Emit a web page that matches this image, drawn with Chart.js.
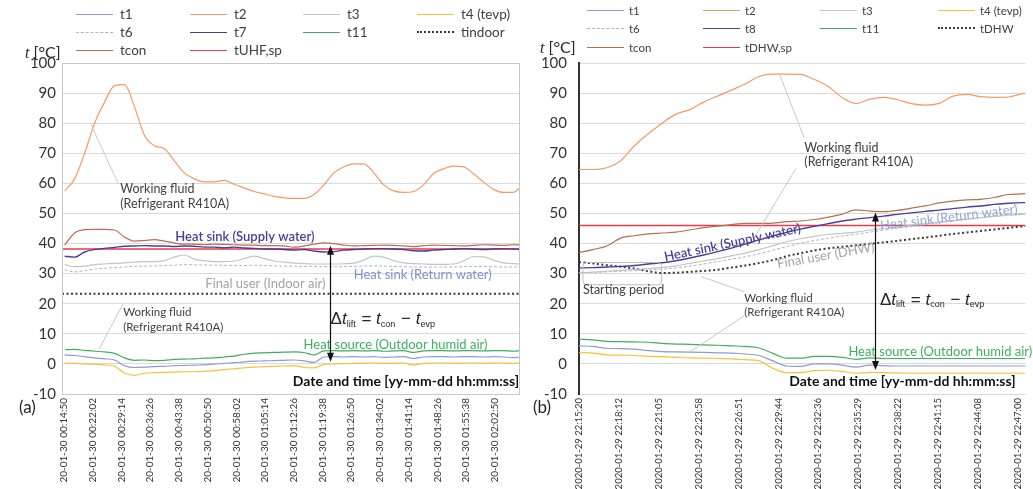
<!DOCTYPE html>
<html>
<head>
<meta charset="utf-8">
<script src="https://cdn.jsdelivr.net/npm/chart.js@4.4.1/dist/chart.umd.min.js"></script>
<style>
  body { margin: 0; background: #fff; width: 1033px; height: 489px; overflow: hidden; font-family: Lato, sans-serif; }
  .panel { position: absolute; top: 0; height: 489px; }
  #panelA { left: 0; width: 523px; }
  #panelB { left: 527px; width: 506px; }
  .item { position: absolute; display: flex; align-items: center; height: 18px; white-space: nowrap; color: #404040; }
  .swatch { width: 37px; height: 0; }
  .ylab { position: absolute; color: #262626; font-size: 16px; white-space: nowrap; }
  .ylab i { font-family: "Liberation Serif", serif; }
  .tag { position: absolute; font-size: 17px; color: #262626; }
</style>
</head>
<body>
<div id="panelA" class="panel">
  <canvas id="chartA" width="523" height="489"></canvas>
  <div class="ylab" style="left:25px; top:42px;"><i>t</i> [°C]</div>
  <div class="tag" style="left:19px; top:396px;">(a)</div>
</div>
<div id="panelB" class="panel">
  <canvas id="chartB" width="506" height="489"></canvas>
  <div class="ylab" style="left:13px; top:37px;"><i>t</i> [°C]</div>
  <div class="tag" style="left:6px; top:396px;">(b)</div>
</div>
<script>
// ---------- panel (a): underfloor heating run, 2020-01-30 ----------
// sample times in seconds after midnight
const timeA = [900, 1050, 1200, 1350, 1500, 1650, 1800, 1950, 2100, 2250, 2400, 2550, 2700, 2850, 3000, 3150,
  3300, 3450, 3600, 3750, 3900, 4050, 4200, 4350, 4500, 4650, 4800, 4950, 5100, 5250, 5400, 5550, 5700, 5850,
  6000, 6150, 6300, 6450, 6600, 6750, 6900, 7050, 7200, 7350, 7500, 7650, 7750];
const ticksA = ['20-01-30 00:14:50', '20-01-30 00:22:02', '20-01-30 00:29:14', '20-01-30 00:36:26',
  '20-01-30 00:43:38', '20-01-30 00:50:50', '20-01-30 00:58:02', '20-01-30 01:05:14', '20-01-30 01:12:26',
  '20-01-30 01:19:38', '20-01-30 01:26:50', '20-01-30 01:34:02', '20-01-30 01:41:14', '20-01-30 01:48:26',
  '20-01-30 01:55:38', '20-01-30 02:02:50'];

const t1A = [3, 2.8, 2.4, 2, 1.7, 1.3, -0.6, -1.2, -1.1, -0.9, -0.8, -0.6, -0.5, -0.4, -0.3, -0.1, 0.2, 0.4, 0.7,
  0.9, 1, 1.1, 1.2, 1.3, 1, 0.5, 2.3, 2.4, 2.3, 2.4, 2.3, 2.4, 2.2, 2.3, 2.4, 1.8, 2.3, 2.4, 2.4, 2.3, 2.4, 2.4,
  2.3, 2.4, 2.3, 2.1, 2.2];
const t2A = [57.5, 61.5, 70, 80, 87, 92.5, 92.8, 85.5, 76, 72.5, 71.5, 67.5, 63.5, 61.5, 60.5, 60.5, 61, 59.7,
  58.5, 57.3, 56.5, 55.7, 55.2, 55, 55, 56.3, 59.5, 63.5, 65.5, 66.5, 66.5, 63.5, 59.5, 57.5, 57, 57.3, 59.5,
  63.3, 64.8, 65.7, 65.5, 63.2, 60.5, 58, 57, 57, 58.5];
const t3A = [33, 32.3, 32.5, 33, 33.2, 33.4, 33.6, 33.8, 34, 34, 34.3, 35.5, 36.2, 34.8, 34.3, 34, 34, 34.2, 35,
  35.8, 35, 34.2, 33.8, 33.5, 33.3, 33.2, 33.2, 33.2, 33.3, 33.5, 34.5, 35.8, 35.5, 34.3, 33.6, 33.3, 33.2, 33.1,
  33.1, 33.2, 34.2, 35.7, 35.6, 34.5, 33.6, 33.3, 33.2];
const t4A = [0.2, 0.2, 0, -0.1, -0.3, -0.8, -3, -3.8, -3.1, -2.9, -2.8, -2.7, -2.6, -2.6, -2.5, -2.2, -1.9, -1.6,
  -1.3, -1.1, -0.9, -0.8, -0.7, -0.6, -1.2, -1.3, -0.2, 0, 0.1, 0.2, 0.2, 0.3, 0.2, 0.2, 0.3, -0.4, 0.2, 0.3, 0.3,
  0.2, 0.3, 0.3, 0.2, 0.3, 0.3, 0.2, 0.3];
const t6A = [31.2, 30.6, 31, 31.5, 31.8, 32, 32.2, 32.4, 32.5, 32.6, 32.7, 32.8, 33, 32.9, 32.9, 32.8, 32.8, 32.7,
  32.7, 32.8, 32.7, 32.6, 32.5, 32.5, 32.4, 32.4, 32.3, 32.3, 32.3, 32.4, 32.5, 32.6, 32.5, 32.4, 32.3, 32.2,
  32.2, 32.2, 32.2, 32.2, 32.3, 32.4, 32.4, 32.3, 32.2, 32.2, 32.2];
const t7A = [35.8, 35.5, 37.2, 38, 38.4, 38.7, 39.1, 39.2, 39.3, 39.2, 39.2, 39, 39.2, 39.1, 38.8, 38.8, 38.6,
  38.8, 38.5, 38.4, 38.2, 38.2, 38, 37.8, 38, 37.5, 37.2, 37.3, 37.8, 38, 38.2, 38.3, 38.3, 38.2, 38, 37.6, 37.5,
  37.8, 38, 38.2, 38.3, 38.2, 38, 38.2, 38.3, 38.2, 38.1];
const t11A = [4.7, 4.8, 4.5, 4.2, 4, 3.5, 2, 1.2, 1.3, 1.1, 1.2, 1.5, 1.6, 1.7, 1.9, 2, 2.3, 2.6, 3.2, 3.6, 3.7,
  3.8, 3.9, 4, 3.8, 3, 4.3, 4.4, 4.3, 4.4, 4.3, 4.4, 4.2, 4.3, 4.4, 3.8, 4.3, 4.4, 4.4, 4.3, 4.4, 4.4, 4.3, 4.4,
  4.4, 4.2, 4.4];
const tconA = [39.5, 43.5, 44.6, 44.7, 44.7, 44.5, 42.2, 40.8, 41, 41.3, 40.8, 40.2, 39.8, 39.8, 39.6, 39.8, 39.7,
  39.6, 39.5, 39.5, 39.3, 39.3, 39.2, 38.8, 39.2, 39.8, 40.2, 40, 39.5, 39.2, 39.3, 39.4, 39.5, 39.4, 39.2, 39,
  39.3, 39.5, 39.4, 39.3, 39.2, 39.4, 39.6, 39.5, 39.4, 39.6, 39.5];
// constant lines: start and end only
const flatTimeA = [860, 7750];
const tindoorA = [23.3, 23.3];
const tspA = [38.2, 38.2];

// ---------- panel (b): domestic hot water run, 2020-01-29 ----------
const timeB = [80120, 80180, 80240, 80300, 80360, 80420, 80480, 80540, 80600, 80660, 80720, 80780, 80840, 80900,
  80960, 81020, 81080, 81140, 81200, 81260, 81320, 81380, 81440, 81500, 81560, 81620, 81680, 81740, 81800, 81860,
  81920, 81980, 82040, 82054];
const ticksB = ['2020-01-29 22:15:20', '2020-01-29 22:18:12', '2020-01-29 22:21:05', '2020-01-29 22:23:58',
  '2020-01-29 22:26:51', '2020-01-29 22:29:44', '2020-01-29 22:32:36', '2020-01-29 22:35:29',
  '2020-01-29 22:38:22', '2020-01-29 22:41:15', '2020-01-29 22:44:08', '2020-01-29 22:47:00'];

const t1B = [6, 5.8, 5.2, 5.1, 4.9, 4.4, 4.1, 4, 3.9, 3.8, 3.7, 3.6, 3.3, 2.8, 1, -0.7, -0.8, 0, 0, -0.4, -1.1,
  -0.4, -0.6, -0.7, -0.7, -0.7, -0.7, -0.7, -0.7, -0.7, -0.7, -0.7, -0.7, -0.7];
const t2B = [64.6, 64.6, 65.2, 67.5, 72.5, 76.5, 80, 83, 84.5, 87, 89, 91, 93, 95.5, 96.3, 96.3, 96.2, 94.5, 92.2,
  88.5, 86.5, 88, 88.6, 87.8, 86.5, 86, 86.6, 89, 89.6, 88.8, 88.6, 88.7, 89.8, 90];
const t3B = [30.3, 30.5, 30.8, 31.1, 31.4, 31.7, 32.1, 32.6, 33.4, 34.2, 35, 35.9, 36.8, 38, 39.3, 40.6, 41.6,
  42.4, 43, 43.4, 43.8, 44.5, 45, 45.5, 46.1, 46.6, 47.1, 47.6, 48.1, 48.6, 49, 49.4, 49.7, 49.8];
const t4B = [3.8, 3.6, 3, 2.9, 2.8, 2.5, 2.4, 2.2, 2, 1.9, 1.8, 1.7, 1.4, 1, -1.5, -2.9, -2.9, -2.2, -2.1, -2.5,
  -3.1, -2.8, -2.9, -3, -3.1, -3.1, -3.1, -3.1, -3.1, -3.1, -3.1, -3.1, -3.1, -3.1];
const t6B = [30.3, 30.4, 30.6, 30.8, 31, 31.2, 31.5, 31.9, 32.5, 33.2, 34, 34.8, 35.6, 36.6, 37.8, 39, 40.1, 41,
  41.8, 42.5, 43.1, 43.8, 44.5, 45.1, 45.7, 46.3, 46.9, 47.5, 48, 48.6, 49.1, 49.6, 50, 50.1];
const t8B = [31.9, 32, 32.2, 32.4, 32.7, 33.2, 33.6, 34.3, 35.2, 36.2, 37.3, 38.5, 39.8, 41.2, 42.5, 43.7, 44.8,
  45.7, 46.6, 47.5, 48.1, 48.6, 49.1, 49.7, 50.2, 50.7, 51.1, 51.6, 52.1, 52.5, 53, 53.4, 53.6, 53.6];
const t11B = [8.2, 8, 7.5, 7.4, 7.3, 7.2, 6.8, 6.6, 6.5, 6.3, 6.2, 6, 5.8, 5.3, 3.5, 1.9, 1.9, 2.5, 2.5, 2.2, 1.5,
  2, 1.8, 1.8, 1.8, 1.8, 1.8, 1.8, 1.8, 1.8, 1.8, 1.8, 1.8, 1.8];
const tDHWB = [33.8, 33.4, 32.8, 32.3, 31.7, 30.8, 30.2, 30.3, 30.6, 30.9, 31.3, 32, 32.7, 33.5, 34.5, 35.8, 36.8,
  37.7, 38.4, 38.9, 39.4, 39.9, 40.4, 40.9, 41.5, 42, 42.6, 43.2, 43.7, 44.2, 44.7, 45.2, 45.7, 45.8];
const tconB = [37, 38, 39.2, 41.8, 42.6, 43.2, 43.5, 43.8, 44.5, 45.3, 45.8, 46.3, 46.7, 46.7, 46.8, 47.3, 47.5,
  48, 48.8, 49.8, 51.2, 50.8, 50.6, 51, 51.8, 52.5, 53.5, 54.1, 54.5, 54.7, 55.3, 56.3, 56.5, 56.6];
const flatTimeB = [80120, 82054];
const tspB = [46, 46];

const COL = {
  t1: '#8E9AD6', t2: '#F39B66', t3: '#C4C4C4', t4: '#F7C232', t6: '#A8B4D4',
  t7: '#4A3D9E', t11: '#3EAF5E', dots: '#3A3A3A', tcon: '#B86F50', sp: '#E83A4A'
};

const toSec = s => { const p = s.split(':').map(Number); return p[0] * 3600 + p[1] * 60 + p[2]; };

function series(label, times, values, color, extra) {
  return Object.assign({
    label: label,
    data: values.map((v, i) => ({ x: times[i], y: v })),
    borderColor: color,
    backgroundColor: color,
    borderWidth: 1.2,
    pointRadius: 0,
    cubicInterpolationMode: 'monotone',
    fill: false
  }, extra || {});
}

const DASH = { borderDash: [3, 2], borderWidth: 1 };
const DOTS = { borderDash: [2, 2.5], borderWidth: 2 };

const setsA = [
  series('t1', timeA, t1A, COL.t1),
  series('t2', timeA, t2A, COL.t2),
  series('t3', timeA, t3A, COL.t3),
  series('t4 (tevp)', timeA, t4A, COL.t4),
  series('t6', timeA, t6A, COL.t6, DASH),
  series('t7', timeA, t7A, COL.t7, { borderWidth: 1.4 }),
  series('t11', timeA, t11A, COL.t11),
  series('tindoor', flatTimeA, tindoorA, COL.dots, DOTS),
  series('tcon', timeA, tconA, COL.tcon),
  series('tUHF,sp', flatTimeA, tspA, COL.sp, { borderWidth: 1.6, order: 5 })
];

const setsB = [
  series('t1', timeB, t1B, COL.t1),
  series('t2', timeB, t2B, COL.t2),
  series('t3', timeB, t3B, COL.t3),
  series('t4 (tevp)', timeB, t4B, COL.t4),
  series('t6', timeB, t6B, COL.t6, DASH),
  series('t8', timeB, t8B, COL.t7, { borderWidth: 1.4 }),
  series('t11', timeB, t11B, COL.t11),
  series('tDHW', timeB, tDHWB, COL.dots, DOTS),
  series('tcon', timeB, tconB, COL.tcon),
  series('tDHW,sp', flatTimeB, tspB, COL.sp, { borderWidth: 1.6, order: 5 })
];

// delta-t formula with subscripts
function drawFormula(ctx, x, y) {
  const big = '17px "Liberation Sans"';
  const ital = 'italic 17px "Liberation Sans"';
  const small = '9px "Liberation Sans"';
  const parts = [['\u0394', big, 0], ['t', ital, 0], ['lift', small, 5], [' = ', big, 0], ['t', ital, 0],
    ['con', small, 5], [' \u2212 ', big, 0], ['t', ital, 0], ['evp', small, 5]];
  ctx.fillStyle = '#262626';
  ctx.textAlign = 'left';
  ctx.textBaseline = 'middle';
  let cx = x;
  parts.forEach(p => {
    ctx.font = p[1];
    ctx.fillText(p[0], cx, y + p[2]);
    cx += ctx.measureText(p[0]).width + (p[2] ? 1 : 0);
  });
}

const notes = {
  id: 'notes',
  afterDatasetsDraw(chart, args, opts) {
    const { ctx, chartArea, scales: { x, y } } = chart;
    const X = v => x.getPixelForValue(v);
    const Y = v => y.getPixelForValue(v);
    ctx.save();
    if (opts.frame) {
      ctx.strokeStyle = opts.frame;
      ctx.lineWidth = 1;
      ctx.strokeRect(chartArea.left + 0.5, chartArea.top + 0.5, chartArea.width - 1, chartArea.height);
    }
    (opts.lines || []).forEach(l => {
      ctx.strokeStyle = '#C8C8C8';
      ctx.lineWidth = 1;
      ctx.beginPath();
      ctx.moveTo(X(l[0]), Y(l[1]));
      ctx.lineTo(X(l[2]), Y(l[3]));
      ctx.stroke();
    });
    (opts.boxes || []).forEach(b => {
      ctx.strokeStyle = '#BDBDBD';
      ctx.lineWidth = 1;
      ctx.beginPath();
      ctx.roundRect(X(b[0]), Y(b[1]), X(b[2]) - X(b[0]), Y(b[3]) - Y(b[1]), 4);
      ctx.stroke();
    });
    (opts.texts || []).forEach(t => {
      ctx.save();
      ctx.translate(X(t.x), Y(t.y));
      ctx.rotate((t.rot || 0) * Math.PI / 180);
      ctx.font = t.font;
      ctx.fillStyle = t.color;
      ctx.textAlign = t.align || 'left';
      ctx.textBaseline = 'middle';
      ctx.fillText(t.text, 0, 0);
      ctx.restore();
    });
    (opts.arrows || []).forEach(a => {
      const ax = Math.round(X(a.x)) + 0.5, y1 = Y(a.top), y2 = Y(a.bottom);
      ctx.strokeStyle = '#111';
      ctx.fillStyle = '#111';
      ctx.lineWidth = 1.2;
      ctx.beginPath();
      ctx.moveTo(ax, y1 + 6);
      ctx.lineTo(ax, y2 - 6);
      ctx.stroke();
      ctx.beginPath();
      ctx.moveTo(ax, y1); ctx.lineTo(ax - 3.5, y1 + 9); ctx.lineTo(ax + 3.5, y1 + 9); ctx.closePath();
      ctx.moveTo(ax, y2); ctx.lineTo(ax - 3.5, y2 - 9); ctx.lineTo(ax + 3.5, y2 - 9); ctx.closePath();
      ctx.fill();
    });
    if (opts.formula) drawFormula(ctx, X(opts.formula.x), Y(opts.formula.y));
    ctx.restore();
  }
};

const F = {
  label: '12.5px Lato',
  small: '11.5px Lato',
  group: '13px Lato',
  groupB: '600 13px Lato',
  axis: 'bold 14px Lato'
};

function makeChart(id, sets, o) {
  return new Chart(document.getElementById(id), {
    type: 'line',
    data: { datasets: sets },
    plugins: [notes],
    options: {
      responsive: false,
      animation: false,
      devicePixelRatio: 1,
      layout: { padding: { top: 63, right: o.padRight, left: 0, bottom: 0 } },
      plugins: {
        legend: { display: false },
        tooltip: { enabled: false },
        notes: o.notes
      },
      scales: {
        x: {
          type: 'linear',
          min: o.min,
          max: o.max,
          afterBuildTicks: s => { s.ticks = o.ticks.map(l => ({ value: toSec(l.split(' ')[1]) })); },
          afterFit: s => { s.height = 95; },
          ticks: {
            autoSkip: false, minRotation: 90, maxRotation: 90, padding: 4,
            font: { family: 'Lato', size: o.tickSize }, color: '#333',
            callback: (v, i) => o.ticks[i]
          },
          grid: { display: false, drawTicks: false },
          border: { display: false }
        },
        y: {
          min: -10,
          max: 100,
          afterFit: s => { s.width = o.yWidth; },
          ticks: { stepSize: 10, padding: o.yPad, font: { family: 'Lato', size: 15 }, color: '#333' },
          grid: { color: '#D9D9D9', drawTicks: false },
          border: { color: o.axisColor, width: o.axisWidth }
        }
      }
    }
  });
}

// legend: 4 columns, rows of items taken in dataset order
function buildLegend(panelId, sets, cols, rows, size, gap) {
  const panel = document.getElementById(panelId);
  sets.forEach((d, i) => {
    const item = document.createElement('div');
    item.className = 'item';
    item.style.left = cols[i % 4] + 'px';
    item.style.top = (rows[Math.floor(i / 4)] - 9) + 'px';
    item.style.fontSize = size + 'px';
    const sw = document.createElement('span');
    sw.className = 'swatch';
    const style = d.borderDash ? (d.borderWidth > 1.5 ? 'dotted' : 'dashed') : 'solid';
    sw.style.borderTop = (style === 'dotted' ? 2 : 1.5) + 'px ' + style + ' ' + d.borderColor;
    sw.style.marginRight = gap + 'px';
    const tx = document.createElement('span');
    tx.textContent = d.label;
    item.appendChild(sw);
    item.appendChild(tx);
    panel.appendChild(item);
  });
}

makeChart('chartA', setsA, {
  min: 860, max: 7750, ticks: ticksA, tickSize: 10, padRight: 3, yWidth: 62, yPad: 6,
  axisColor: '#C8C8C8', axisWidth: 1,
  notes: {
    frame: '#C8C8C8',
    lines: [[1297, 79.5, 1704, 60], [1780, 20, 1420, 5]],
    texts: [
      { x: 1735, y: 58, text: 'Working fluid', font: F.label, color: '#404040' },
      { x: 1735, y: 53, text: '(Refrigerant R410A)', font: F.label, color: '#404040' },
      { x: 2564, y: 42.3, text: 'Heat sink (Supply water)', font: F.groupB, color: '#4A3D9E' },
      { x: 5248, y: 29.7, text: 'Heat sink (Return water)', font: F.group, color: '#7F8FD0' },
      { x: 3016, y: 26.7, text: 'Final user (Indoor air)', font: F.group, color: '#A3A3A3' },
      { x: 1780, y: 17.3, text: 'Working fluid', font: F.small, color: '#404040' },
      { x: 1780, y: 12.3, text: '(Refrigerant R410A)', font: F.small, color: '#404040' },
      { x: 4494, y: 6.3, text: 'Heat source (Outdoor humid air)', font: F.group, color: '#3EAF5E' },
      { x: 7736, y: -6, text: 'Date and time [yy-mm-dd hh:mm:ss]', font: F.axis, color: '#111', align: 'right' }
    ],
    arrows: [{ x: 4886, top: 39.3, bottom: 0.7 }],
    formula: { x: 4901, y: 14.7 }
  }
});

makeChart('chartB', setsB, {
  min: 80120, max: 82054, ticks: ticksB, tickSize: 9.5, padRight: 0, yWidth: 52, yPad: 12,
  axisColor: '#333', axisWidth: 2,
  notes: {
    lines: [[81096, 75, 80990, 96], [81060, 65, 80880, 42], [80836, 24, 80650, 29], [80836, 16, 80600, 4]],
    boxes: [[80137, 33.7, 80478, 26.3]],
    texts: [
      { x: 81096, y: 71.7, text: 'Working fluid', font: F.label, color: '#404040' },
      { x: 81096, y: 67, text: '(Refrigerant R410A)', font: F.label, color: '#404040' },
      { x: 80785, y: 40.3, text: 'Heat sink (Supply water)', font: F.groupB, color: '#4A3D9E', align: 'center', rot: -12 },
      { x: 81722, y: 48.7, text: 'Heat sink (Return water)', font: F.group, color: '#8FA5D8', align: 'center', rot: -7 },
      { x: 81189, y: 36, text: 'Final user (DHW)', font: F.group, color: '#A3A3A3', align: 'center', rot: -10 },
      { x: 80137, y: 24.7, text: 'Starting period', font: F.label, color: '#404040' },
      { x: 80836, y: 21.7, text: 'Working fluid', font: F.small, color: '#404040' },
      { x: 80836, y: 17, text: '(Refrigerant R410A)', font: F.small, color: '#404040' },
      { x: 81287, y: 4, text: 'Heat source (Outdoor humid air)', font: F.group, color: '#3EAF5E' },
      { x: 82011, y: -6, text: 'Date and time [yy-mm-dd hh:mm:ss]', font: F.axis, color: '#111', align: 'right' }
    ],
    arrows: [{ x: 81402, top: 50.3, bottom: -2 }],
    formula: { x: 81424, y: 21.3 }
  }
});

buildLegend('panelA', setsA, [76, 190, 303, 417], [14, 32, 50], 13.5, 7);
buildLegend('panelB', setsB, [60, 176, 293, 411], [10, 28, 47], 11.5, 5);
</script>
</body>
</html>
